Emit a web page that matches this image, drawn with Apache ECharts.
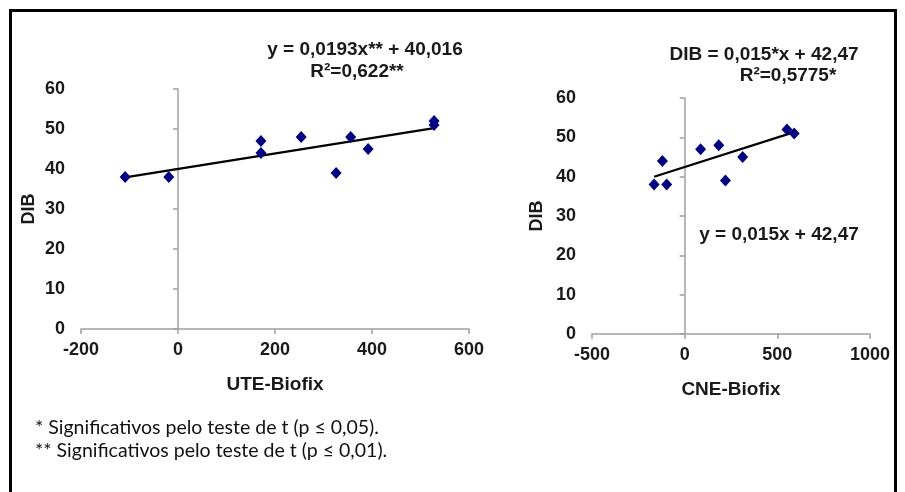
<!DOCTYPE html>
<html>
<head>
<meta charset="utf-8">
<script src="https://cdn.jsdelivr.net/npm/echarts@6/dist/echarts.min.js"></script>
<style>
html,body{margin:0;padding:0;background:#fff;}
#c{width:905px;height:492px;}
</style>
</head>
<body>
<div id="c"></div>
<script>
// ---- Data ----
const uteX = [-109, -19, 171, 171, 254, 326, 356, 392, 528, 528];
const uteY = [38, 38, 47, 44, 48, 39, 48, 45, 52, 51];
const cneX = [-165, -97, -120, 86, 184, 220, 313, 552, 591];
const cneY = [38, 38, 44, 47, 48, 39, 45, 52, 51];
const uteSlope = 0.0193, uteIntercept = 40.016;
const cneSlope = 0.015, cneIntercept = 42.47;
const uteTicks = [-200, 0, 200, 400, 600];
const cneTicks = [-500, 0, 500, 1000];
const dibTicks = [0, 10, 20, 30, 40, 50, 60];
const eqLeft = ['y = 0,0193x** + 40,016', 'R²=0,622**'];
const eqRight = ['DIB = 0,015*x + 42,47', 'R²=0,5775*'];
const eqRightInner = 'y = 0,015x + 42,47';
const notes = ['* Significativos pelo teste de t (p ≤ 0,05).', '** Significativos pelo teste de t (p ≤ 0,01).'];

function pairs(xs, ys){ return xs.map((x,i)=>[x, ys[i]]); }
function trend(xs, a, b){
  const lo = Math.min(...xs), hi = Math.max(...xs);
  return [[lo, a*lo+b],[hi, a*hi+b]];
}

const font = "'Liberation Sans', Arial, sans-serif";
const lblColor = '#1a1a1a';
const axisGray = '#a0a0a0';

function xAx(idx, ticks, name){
  return {
    type:'value', gridIndex:idx,
    min:ticks[0], max:ticks[ticks.length-1], interval:ticks[1]-ticks[0],
    splitLine:{show:false},
    axisLine:{onZero:false, lineStyle:{color:axisGray, width:1.5}},
    axisTick:{length:5, lineStyle:{color:axisGray, width:1.5}},
    axisLabel:{color:lblColor, fontFamily:font, fontWeight:'bold', fontSize:18, margin:12,
      formatter:function(v){ return String(v); }},
    name:name, nameLocation:'middle', nameGap:46,
    nameTextStyle:{color:lblColor, fontFamily:font, fontWeight:'bold', fontSize:19}
  };
}
function yLab(idx, gap){
  return {
    type:'value', gridIndex:idx, min:dibTicks[0], max:dibTicks[dibTicks.length-1], interval:dibTicks[1]-dibTicks[0],
    splitLine:{show:false},
    axisLine:{show:false, onZero:false}, axisTick:{show:false},
    axisLabel:{color:lblColor, fontFamily:font, fontWeight:'bold', fontSize:18, margin:16},
    name:'DIB', nameLocation:'middle', nameGap:gap, nameRotate:90,
    nameTextStyle:{color:lblColor, fontFamily:font, fontWeight:'bold', fontSize:18}
  };
}
function yLine(idx){
  return {
    type:'value', gridIndex:idx, min:dibTicks[0], max:dibTicks[dibTicks.length-1], interval:dibTicks[1]-dibTicks[0],
    position:'left',
    splitLine:{show:false},
    axisLine:{show:true, onZero:true, lineStyle:{color:axisGray, width:1.5}},
    axisTick:{show:true, length:5, lineStyle:{color:axisGray, width:1.5}},
    axisLabel:{show:false}
  };
}

const chart = echarts.init(document.getElementById('c'), null, {renderer:'canvas'});
const pointColor = '#000080';
const eqFont = "bold 19px 'Liberation Sans', Arial, sans-serif";
const noteFont = "19.5px Lato, 'Open Sans', sans-serif";
chart.setOption({
  backgroundColor:'#fff',
  animation:false,
  grid:[
    {left:81, top:89, width:388, height:240},
    {left:592, top:98, width:278, height:236}
  ],
  xAxis:[xAx(0, uteTicks, 'UTE-Biofix'), xAx(1, cneTicks, 'CNE-Biofix')],
  yAxis:[yLab(0, 43), yLine(0), yLab(1, 46), yLine(1)],
  series:[
    {type:'line', xAxisIndex:0, yAxisIndex:0, data:trend(uteX, uteSlope, uteIntercept), symbol:'none',
      lineStyle:{color:'#000', width:2.2}, z:2},
    {type:'scatter', xAxisIndex:0, yAxisIndex:0, data:pairs(uteX, uteY), symbol:'diamond', symbolSize:[11,12],
      itemStyle:{color:pointColor, opacity:1}, z:3},
    {type:'line', xAxisIndex:1, yAxisIndex:2, data:trend(cneX, cneSlope, cneIntercept), symbol:'none',
      lineStyle:{color:'#000', width:2.2}, z:2},
    {type:'scatter', xAxisIndex:1, yAxisIndex:2, data:pairs(cneX, cneY), symbol:'diamond', symbolSize:[11,12],
      itemStyle:{color:pointColor, opacity:1}, z:3}
  ],
  graphic:[
    {type:'rect', shape:{x:10.5, y:10.5, width:885, height:500}, style:{fill:null, stroke:'#000', lineWidth:3}, silent:true},
    {type:'text', x:365, y:50, style:{text:eqLeft[0], font:eqFont, fill:lblColor, textAlign:'center', textVerticalAlign:'middle'}},
    {type:'text', x:357, y:72, style:{text:eqLeft[1], font:eqFont, fill:lblColor, textAlign:'center', textVerticalAlign:'middle'}},
    {type:'text', x:764, y:55, style:{text:eqRight[0], font:eqFont, fill:lblColor, textAlign:'center', textVerticalAlign:'middle'}},
    {type:'text', x:788, y:76, style:{text:eqRight[1], font:eqFont, fill:lblColor, textAlign:'center', textVerticalAlign:'middle'}},
    {type:'text', x:779, y:235, style:{text:eqRightInner, font:eqFont, fill:lblColor, textAlign:'center', textVerticalAlign:'middle'}},
    {type:'text', x:35, y:428, style:{text:notes[0], font:noteFont, fill:'#111', textAlign:'left', textVerticalAlign:'middle'}},
    {type:'text', x:35, y:451, style:{text:notes[1], font:noteFont, fill:'#111', textAlign:'left', textVerticalAlign:'middle'}}
  ]
});
</script>
</body>
</html>
